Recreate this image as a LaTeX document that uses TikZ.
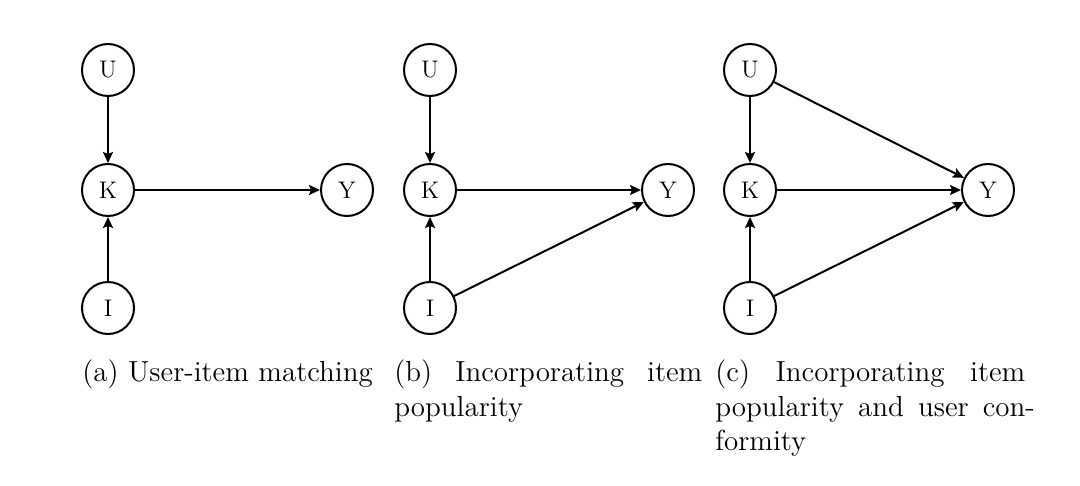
\documentclass[tikz,border=0pt]{standalone}
\usepackage{fontspec}
\usetikzlibrary{arrows.meta}
\begin{document}
\begin{tikzpicture}[x=0.5pt,y=-0.5pt,
  var/.style={circle,draw,line width=1pt,minimum size=26pt,inner sep=0pt,font=\fontsize{12}{14}\selectfont\addfontfeatures{FakeStretch=1.1,FakeBold=0.4}},
  edge/.style={line width=1pt,-{Stealth[length=5.5pt,width=5pt,inset=1pt]}},
  captext/.style={anchor=base west,inner sep=0pt,font=\fontsize{14.5}{16}\selectfont\addfontfeatures{FakeStretch=1.12,FakeBold=0.4}}]
\useasboundingbox[fill=white] (0,0) rectangle (1080,486);
% panel a
\node[var] (aU) at (108,70) {U};
\node[var] (aK) at (108,190) {K};
\node[var] (aI) at (108,308) {I};
\node[var] (aY) at (347,190) {Y};
\draw[edge] (aU) -- (aK);
\draw[edge] (aI) -- (aK);
\draw[edge] (aK) -- (aY);
% panel b
\node[var] (bU) at (430,70) {U};
\node[var] (bK) at (430,190) {K};
\node[var] (bI) at (430,308) {I};
\node[var] (bY) at (668,190) {Y};
\draw[edge] (bU) -- (bK);
\draw[edge] (bI) -- (bK);
\draw[edge] (bK) -- (bY);
\draw[edge] (bI) -- (bY);
% panel c
\node[var] (cU) at (750,70) {U};
\node[var] (cK) at (750,190) {K};
\node[var] (cI) at (750,308) {I};
\node[var] (cY) at (988,190) {Y};
\draw[edge] (cU) -- (cK);
\draw[edge] (cI) -- (cK);
\draw[edge] (cK) -- (cY);
\draw[edge] (cI) -- (cY);
\draw[edge] (cU) -- (cY);
% captions
\node[captext] (ca1) at (82,381) {(a) User-item matching};
\node[captext] (cb1) at (394,381) {\hbox to 154pt{(b)\hfill Incorporating\hfill item}};
\node[captext] (cb2) at (394,416) {popularity};
\node[captext] (cc1) at (715,381) {\hbox to 155pt{(c)\hfill Incorporating\hfill item}};
\node[captext] (cc2) at (715,416) {\hbox to 155pt{popularity\hfill and\hfill user\hfill con\rlap{-}}};
\node[captext] (cc3) at (715,450) {formity};
\end{tikzpicture}
\end{document}
